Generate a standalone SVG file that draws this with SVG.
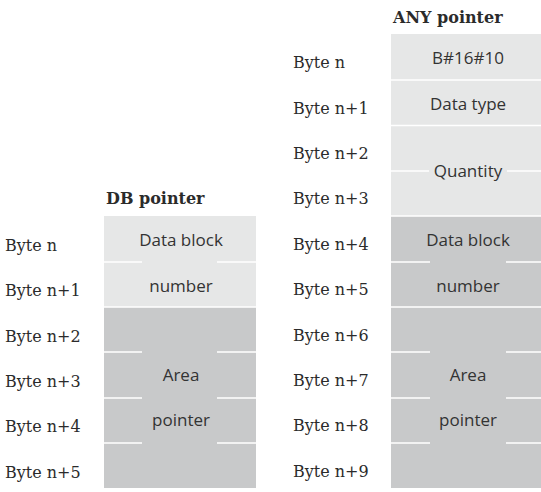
<svg xmlns="http://www.w3.org/2000/svg" width="541" height="492" viewBox="0 0 541 492">
<style>
.lbl{font-family:"DejaVu Serif","Liberation Serif",serif;font-size:16px;fill:#2b2b2b}
.ttl{font-family:"DejaVu Serif","Liberation Serif",serif;font-size:16px;font-weight:bold;fill:#2b2b2b}
.txt{font-family:"Open Sans","Noto Sans",sans-serif;font-size:17px;fill:#333;text-anchor:middle}
.light{fill:#e6e7e7}
.dark{fill:#c8c9ca}
.sep{stroke:#fff;stroke-width:1.5;fill:none}
</style>
<rect width="541" height="492" fill="#fff"/>
<g id="db-pointer">
<text class="ttl" x="106" y="204">DB pointer</text>
<rect class="light" x="104" y="216" width="152" height="91"/>
<rect class="dark" x="104" y="307" width="152" height="181"/>
<text class="txt" x="181" y="246">Data block</text>
<text class="txt" x="181" y="292">number</text>
<text class="txt" x="181" y="381">Area</text>
<text class="txt" x="181" y="426">pointer</text>
<g class="lbl">
<text x="5" y="251">Byte n</text>
<text x="5" y="296">Byte n+1</text>
<text x="5" y="342">Byte n+2</text>
<text x="5" y="387">Byte n+3</text>
<text x="5" y="432">Byte n+4</text>
<text x="5" y="478">Byte n+5</text>
</g>
</g>
<g id="any-pointer">
<text class="ttl" x="393" y="23">ANY pointer</text>
<rect class="light" x="391" y="34" width="152" height="182"/>
<rect class="dark" x="391" y="216" width="152" height="272"/>
<text class="txt" x="468" y="64">B#16#10</text>
<text class="txt" x="468" y="110">Data type</text>
<text class="txt" x="468" y="177">Quantity</text>
<text class="txt" x="468" y="246">Data block</text>
<text class="txt" x="468" y="292">number</text>
<text class="txt" x="468" y="381">Area</text>
<text class="txt" x="468" y="426">pointer</text>
<g class="lbl">
<text x="293" y="68">Byte n</text>
<text x="293" y="114">Byte n+1</text>
<text x="293" y="159">Byte n+2</text>
<text x="293" y="204">Byte n+3</text>
<text x="293" y="250">Byte n+4</text>
<text x="293" y="295">Byte n+5</text>
<text x="293" y="341">Byte n+6</text>
<text x="293" y="386">Byte n+7</text>
<text x="293" y="431">Byte n+8</text>
<text x="293" y="477">Byte n+9</text>
</g>
</g>
<g id="separators">
<path class="sep" d="M104 262H142M217 262H256M104 307H256M104 352H142M217 352H256M104 398H142M217 398H256M104 443H142M217 443H256"/>
<path class="sep" d="M391 80H541M391 125.5H541M391 171H429M507 171H541M391 216H541M391 262H430M506 262H541M391 307H541M391 352H430M506 352H541M391 398H430M506 398H541M391 443H430M506 443H541"/>
</g>
</svg>
